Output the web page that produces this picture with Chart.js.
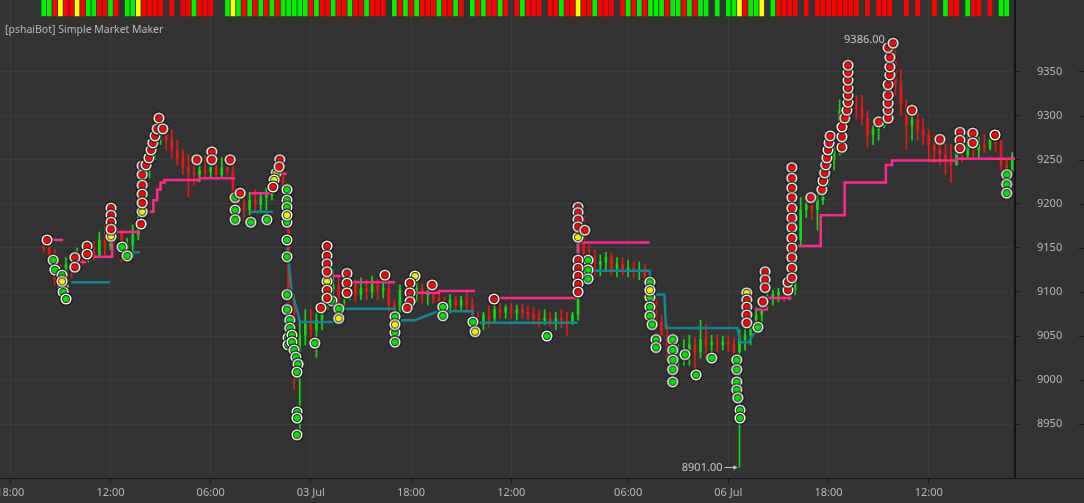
<!DOCTYPE html>
<html>
<head>
<meta charset="utf-8">
<title>[pshaiBot] Simple Market Maker</title>
<script src="https://cdn.jsdelivr.net/npm/chart.js@4/dist/chart.umd.min.js"></script>
<style>
  html, body { margin: 0; padding: 0; background: #333333; }
  #wrap { position: relative; width: 1084px; height: 503px; }
</style>
</head>
<body>
<div id="wrap"><canvas id="chart"></canvas></div>
<script>
// Simple Market Maker - hourly candles, bot order levels and fills

const chartTitle = '[pshaiBot] Simple Market Maker';

// x axis is in "hours" since the first 18:00 tick
const xTickPositions = [0, 18, 36, 54, 72, 90, 111, 129, 147, 165];
const xTickLabels = ['18:00', '12:00', '06:00', '03 Jul', '18:00', '12:00', '06:00', '06 Jul', '18:00', '12:00'];
const yTicks = [8950, 9000, 9050, 9100, 9150, 9200, 9250, 9300, 9350];

// candles, one per hour starting at hour 6
const firstHour = 6;
const candleOpen = [
    9157, 9150, 9139, 9114, 9108, 9131, 9125, 9142, 9139, 9150,
    9142, 9159, 9153, 9165, 9168, 9148, 9153, 9165, 9204, 9238,
    9261, 9281, 9286, 9272, 9261, 9252, 9241, 9236, 9233, 9238,
    9236, 9241, 9233, 9241, 9238, 9204, 9199, 9193, 9204, 9199,
    9207, 9210, 9227, 9233, 9210, 9091, 9023, 9051, 9063, 9057,
    9068, 9091, 9102, 9108, 9097, 9102, 9108, 9097, 9104, 9100,
    9108, 9102, 9104, 9085, 9080, 9102, 9100, 9102, 9104, 9097,
    9100, 9093, 9085, 9082, 9091, 9085, 9091, 9085, 9068, 9063,
    9074, 9070, 9080, 9077, 9082, 9076, 9080, 9077, 9074, 9070,
    9068, 9070, 9066, 9070, 9068, 9066, 9074, 9187, 9142, 9139,
    9131, 9134, 9139, 9127, 9131, 9125, 9127, 9123, 9125, 9116,
    9091, 9066, 9051, 9034, 9023, 9029, 9034, 9040, 9032, 9046,
    9040, 9043, 9040, 9043, 9040, 9032, 9046, 9051, 9059, 9074,
    9085, 9093, 9097, 9100, 9095, 9102, 9159, 9193, 9199, 9193,
    9204, 9227, 9250, 9261, 9306, 9318, 9312, 9309, 9297, 9278,
    9284, 9289, 9329, 9363, 9335, 9312, 9289, 9295, 9284, 9278,
    9267, 9261, 9255, 9250, 9244, 9261, 9255, 9267, 9261, 9267,
    9263, 9272, 9270, 9244, 9238
];
const candleHigh = [
    9161, 9156, 9148, 9131, 9139, 9142, 9150, 9153, 9159, 9157,
    9168, 9176, 9173, 9193, 9170, 9161, 9176, 9210, 9250, 9272,
    9289, 9301, 9289, 9284, 9272, 9261, 9255, 9250, 9252, 9255,
    9250, 9247, 9252, 9250, 9250, 9216, 9210, 9213, 9216, 9213,
    9218, 9238, 9250, 9244, 9216, 9097, 9068, 9080, 9080, 9077,
    9100, 9119, 9125, 9119, 9116, 9119, 9114, 9116, 9114, 9118,
    9114, 9119, 9114, 9091, 9108, 9114, 9111, 9114, 9109, 9104,
    9108, 9102, 9094, 9097, 9095, 9095, 9100, 9093, 9077, 9077,
    9084, 9085, 9087, 9085, 9087, 9085, 9086, 9084, 9082, 9080,
    9080, 9077, 9077, 9080, 9077, 9077, 9195, 9187, 9153, 9148,
    9142, 9145, 9144, 9139, 9139, 9136, 9134, 9134, 9131, 9119,
    9097, 9074, 9063, 9051, 9040, 9046, 9051, 9048, 9068, 9063,
    9051, 9051, 9050, 9050, 9048, 9057, 9063, 9066, 9082, 9091,
    9100, 9102, 9104, 9102, 9108, 9170, 9207, 9210, 9207, 9210,
    9238, 9261, 9272, 9318, 9340, 9354, 9323, 9323, 9306, 9289,
    9295, 9340, 9386, 9374, 9352, 9318, 9309, 9304, 9297, 9284,
    9278, 9275, 9272, 9267, 9272, 9275, 9276, 9278, 9276, 9278,
    9279, 9281, 9272, 9250, 9258
];
const candleLow = [
    9145, 9134, 9108, 9100, 9102, 9116, 9123, 9131, 9134, 9136,
    9139, 9142, 9148, 9159, 9134, 9134, 9139, 9159, 9199, 9229,
    9250, 9267, 9261, 9252, 9244, 9233, 9208, 9221, 9225, 9227,
    9229, 9227, 9229, 9233, 9199, 9187, 9184, 9187, 9191, 9191,
    9193, 9204, 9221, 9204, 9068, 8989, 8938, 9040, 9046, 9026,
    9057, 9080, 9085, 9085, 9082, 9091, 9089, 9091, 9091, 9093,
    9091, 9093, 9077, 9074, 9077, 9091, 9091, 9089, 9087, 9085,
    9087, 9077, 9074, 9076, 9077, 9080, 9077, 9063, 9055, 9057,
    9060, 9066, 9070, 9070, 9070, 9068, 9070, 9068, 9063, 9060,
    9063, 9060, 9057, 9059, 9050, 9063, 9068, 9131, 9131, 9119,
    9118, 9123, 9119, 9117, 9119, 9117, 9116, 9114, 9108, 9080,
    9057, 9040, 9023, 9000, 9011, 9017, 9017, 9006, 9025, 9026,
    9025, 9032, 9034, 9032, 9025, 8901, 9034, 9040, 9057, 9063,
    9080, 9085, 9089, 9089, 9091, 9097, 9153, 9184, 9182, 9170,
    9199, 9221, 9238, 9255, 9297, 9301, 9297, 9289, 9264, 9267,
    9272, 9286, 9323, 9323, 9301, 9261, 9272, 9272, 9267, 9250,
    9247, 9244, 9233, 9224, 9244, 9247, 9250, 9253, 9252, 9258,
    9261, 9259, 9238, 9230, 9236
];
const candleClose = [
    9150, 9139, 9114, 9108, 9131, 9125, 9142, 9139, 9150, 9142,
    9159, 9153, 9165, 9168, 9148, 9153, 9165, 9204, 9238, 9261,
    9281, 9286, 9272, 9261, 9252, 9241, 9236, 9233, 9238, 9236,
    9241, 9233, 9241, 9238, 9204, 9199, 9193, 9204, 9199, 9207,
    9210, 9227, 9233, 9210, 9091, 9023, 9051, 9063, 9057, 9068,
    9091, 9102, 9108, 9097, 9102, 9108, 9097, 9104, 9100, 9108,
    9102, 9104, 9085, 9080, 9102, 9100, 9102, 9104, 9097, 9100,
    9093, 9085, 9082, 9091, 9085, 9091, 9085, 9068, 9063, 9074,
    9070, 9080, 9077, 9082, 9076, 9080, 9077, 9074, 9070, 9068,
    9070, 9066, 9070, 9068, 9066, 9074, 9187, 9142, 9139, 9131,
    9134, 9139, 9127, 9131, 9125, 9127, 9123, 9125, 9116, 9091,
    9066, 9051, 9034, 9023, 9029, 9034, 9040, 9032, 9046, 9040,
    9043, 9040, 9043, 9040, 9032, 9046, 9051, 9059, 9074, 9085,
    9093, 9097, 9100, 9095, 9102, 9159, 9193, 9199, 9193, 9204,
    9227, 9250, 9261, 9306, 9318, 9312, 9309, 9297, 9278, 9284,
    9289, 9329, 9363, 9335, 9312, 9289, 9295, 9284, 9278, 9267,
    9261, 9255, 9250, 9244, 9261, 9255, 9267, 9261, 9267, 9263,
    9272, 9270, 9244, 9238, 9253
];

// bot sell level (pink) and buy level (teal), null = gap
const pinkH = [
    7.3, 9.5, null, 12.5, 13.6, null, 14.9, 18.3, 18.3, 23.3, null,
    25.1, 25.7, 25.7, 26.4, 26.4, 27.0, 27.0, 27.7, 27.7, 34.0, 34.0, 40.4, null,
    43.1, 47.0, null, 48.8, 49.7, null, 57.8, 61.0, 61.0, 69.1, null,
    72.7, 77.0, 77.0, 83.5, null, 87.8, 102.0, 102.0, 114.9, null,
    133.8, 135.9, 135.9, 140.1, 140.1, 145.6, 145.6, 149.9, 149.9, 157.3, 157.3, 158.4, 158.4, 170.0, 170.0, 180.5
];
const pinkPrice = [
    9159, 9159, null, 9134, 9134, null, 9140, 9140, 9168, 9168, null,
    9191, 9191, 9204, 9204, 9216, 9216, 9224, 9224, 9227, 9227, 9229, 9229, null,
    9212, 9212, null, 9234, 9234, null, 9118, 9118, 9111, 9111, null,
    9099, 9099, 9101, 9101, null, 9093, 9093, 9156, 9156, null,
    9080, 9080, 9093, 9093, 9152, 9152, 9187, 9187, 9224, 9224, 9244, 9244, 9249, 9249, 9251, 9251
];
const tealH = [
    10.9, 17.9, null, 19.9, 23.3, null, 43.1, 47.2, null,
    49.8, 50.2, 50.6, 51.2, 51.7, 52.0, 59.6, 59.6, 69.1, 69.1, 72.7, 76.8, 83.1, 83.1, 102.0, null,
    104.4, 114.9, 114.9, 117.5, 117.8, 130.6, 131.2, 132.6, 134.0
];
const tealPrice = [
    9111, 9111, null, 9145, 9145, null, 9191, 9191, null,
    9150, 9122, 9100, 9086, 9075, 9066, 9066, 9081, 9081, 9068, 9068, 9078, 9078, 9065, 9065, null,
    9124, 9124, 9097, 9097, 9059, 9059, 9043, 9043, 9057
];

// filled orders
const sellH = [
    6.6, 11.6, 11.6, 13.8, 13.8, 18.1, 18.1, 18.1, 18.1,
    23.7, 23.7, 23.7, 23.7, 23.7, 23.5, 24.4, 24.9, 25.3, 25.6, 26.0, 26.4, 26.7, 27.4,
    33.5, 36.2, 36.2, 39.5, 41.3, 48.4, 48.3, 47.2,
    56.9, 56.9, 56.9, 56.9, 56.9, 56.9, 55.8, 60.5, 60.5, 60.5, 67.3,
    71.8, 71.8, 71.8, 71.3, 75.8, 86.9,
    102.0, 102.0, 102.0, 102.0, 103.2, 102.0, 102.0, 102.0, 102.0, 102.0,
    132.3, 132.3, 132.3, 132.3, 135.2, 135.6, 135.6, 135.6, 139.7, 139.7,
    140.4, 140.4, 140.4, 140.4, 140.4, 140.4, 140.4, 140.4, 140.4, 140.4, 140.4, 140.4,
    143.8, 145.8, 146.0, 146.3, 146.5, 146.7, 146.9, 147.1, 147.3,
    149.4, 149.4, 149.4, 149.9, 150.3, 150.5, 150.5, 150.5, 150.5, 150.5, 150.5,
    156.0, 157.7, 157.7, 157.7, 157.7, 157.7, 158.0, 158.0, 158.0, 157.7, 158.6,
    162.0, 167.0, 170.6, 170.6, 170.6, 172.9, 172.9, 176.9
];
const sellPrice = [
    9159, 9139, 9128, 9152, 9143, 9195, 9187, 9179, 9171,
    9243, 9233, 9221, 9211, 9201, 9177, 9244, 9252, 9261, 9269, 9277, 9285, 9297, 9285,
    9250, 9259, 9250, 9250, 9212, 9250, 9242, 9219,
    9152, 9141, 9132, 9123, 9102, 9093, 9082, 9121, 9110, 9099, 9119,
    9110, 9099, 9089, 9082, 9108, 9092,
    9196, 9190, 9182, 9174, 9170, 9136, 9127, 9118, 9109, 9100,
    9091, 9083, 9074, 9065, 9089, 9123, 9114, 9105, 9102, 9111,
    9241, 9229, 9218, 9207, 9195, 9184, 9173, 9161, 9150, 9139, 9127, 9116,
    9207, 9216, 9226, 9235, 9244, 9252, 9261, 9269, 9277,
    9264, 9276, 9287, 9297, 9306, 9315, 9323, 9331, 9340, 9349, 9357,
    9293, 9297, 9306, 9314, 9323, 9335, 9346, 9355, 9366, 9377, 9382,
    9306, 9273, 9281, 9272, 9263, 9280, 9269, 9278
];
const buyH = [
    7.7, 8.0, 9.3, 9.5, 9.5, 10.0, 20.1, 21.0,
    40.4, 40.4, 40.4, 43.2, 46.1,
    49.7, 49.7, 49.7, 49.7, 49.7, 49.7, 49.7, 49.7, 50.2, 50.2, 49.9, 49.9, 50.6, 50.6,
    51.0, 51.3, 51.7, 51.5, 51.5, 51.5, 51.5, 54.7, 57.8, 59.0,
    69.1, 69.1, 69.1, 77.7, 77.7, 83.1, 96.4, 103.8, 103.8, 103.8,
    114.9, 114.9, 114.9, 114.9, 115.3, 116.0, 116.0,
    119.0, 119.0, 119.0, 119.0, 119.0, 121.2, 123.2, 126.0,
    130.5, 130.5, 130.5, 130.5, 130.7, 131.1, 131.1, 134.3, 179.0, 179.0, 179.0
];
const buyPrice = [
    9136, 9125, 9119, 9106, 9100, 9092, 9151, 9141,
    9207, 9193, 9182, 9179, 9182,
    9216, 9204, 9196, 9179, 9159, 9140, 9097, 9080, 9068, 9059, 9048, 9040, 9051, 9043,
    9034, 9026, 9018, 9009, 8964, 8957, 8938, 9042, 9090, 9081,
    9072, 9054, 9043, 9083, 9073, 9066, 9050, 9136, 9125, 9115,
    9111, 9094, 9083, 9073, 9063, 9046, 9037,
    9046, 9034, 9023, 9012, 8998, 9029, 9006, 9025,
    9023, 9012, 8998, 8989, 8980, 8966, 8957, 9060, 9233, 9222, 9212
];
const partialH = [9.3, 18.1, 23.7, 47.8, 47.4, 49.7, 56.9, 59.0, 69.1, 72.7, 83.5, 102.0, 114.9, 132.3];
const partialPrice = [9112, 9163, 9191, 9235, 9227, 9187, 9112, 9070, 9063, 9118, 9055, 9162, 9102, 9099];

// signal strip, one code per hour from hour 6: g = buy, r = sell, y = both, - = none
const stripStartHour = 6;
const stripCodes = (
    'ggryrryrgg' + 'rrgr-ggyrr' + 'rr-r-rrgrr' + 'r--gygrgrg' + 'rgrgggggrg' +
    'rrgrrgrrgr' + 'rr-grgrgrr' + 'rgrrgr-grg' + 'rrgr-rgrrr' + '-rrgrryrrg' +
    'rrr-rgrgrg' + 'ggrggrgrgg' + '-g-ggyrggy' + '-grrrr-r-r' + 'rrrrrrr-r-' +
    'rrr--r-r--' + 'r-grr-grr-' + 'r-gg'
).split('');

// colours
const UP = '#14d814';
const DOWN = '#e81818';
const PINK = '#ff2a8c';
const TEAL = '#12868c';
const TEXT = '#b8b8b8';
const GRID = '#3c3c3c';
const AXIS = '#141414';
const STRIP = { g: '#00f000', r: '#ff0000', y: '#ffff00' };

function toPoints(hs, prices) {
    const pts = [];
    hs.forEach((h, i) => {
        if (h === null) {
            pts.push({ x: hs[i - 1], y: null });
        } else {
            pts.push({ x: h, y: prices[i] });
        }
    });
    return pts;
}

function makeMarker(fill) {
    const c = document.createElement('canvas');
    c.width = 14;
    c.height = 14;
    const g = c.getContext('2d');
    const disc = (r, col) => {
        g.beginPath();
        g.arc(7, 7, r, 0, Math.PI * 2);
        g.fillStyle = col;
        g.fill();
    };
    disc(6.6, '#080808');
    disc(5.6, '#ffffff');
    disc(3.9, '#1c1c1c');
    disc(3.1, fill);
    return c;
}

const candleHours = candleClose.map((_, i) => firstHour + i);
const candleColors = candleClose.map((c, i) => c >= candleOpen[i] ? UP : DOWN);

const stripData = [];
const stripColors = [];
stripCodes.forEach((code, i) => {
    if (code === '-') return;
    stripData.push({ x: stripStartHour + i, y: [29, 30] });
    stripColors.push(STRIP[code]);
});

const overlayPlugin = {
    id: 'overlay',
    afterDatasetsDraw(chart) {
        const { ctx } = chart;
        const x = chart.scales.x, y = chart.scales.y;
        const hi = Math.max(...candleHigh);
        const lo = Math.min(...candleLow);
        const hx = x.getPixelForValue(candleHours[candleHigh.indexOf(hi)]);
        const hy = y.getPixelForValue(hi);
        const lx = x.getPixelForValue(candleHours[candleLow.indexOf(lo)]);
        const ly = y.getPixelForValue(lo);
        ctx.save();
        ctx.font = '11px "Noto Sans", sans-serif';
        ctx.fillStyle = '#c6c6c6';
        ctx.strokeStyle = '#c6c6c6';
        ctx.textAlign = 'right';
        ctx.textBaseline = 'middle';
        ctx.fillText(hi.toFixed(2), hx - 5, hy);
        ctx.fillText(lo.toFixed(2), lx - 17, ly);
        ctx.lineWidth = 1;
        ctx.beginPath();
        ctx.moveTo(lx - 15, Math.round(ly) + 0.5);
        ctx.lineTo(lx - 4, Math.round(ly) + 0.5);
        ctx.stroke();
        ctx.beginPath();
        ctx.moveTo(lx - 2, Math.round(ly) + 0.5);
        ctx.lineTo(lx - 6, Math.round(ly) - 2);
        ctx.lineTo(lx - 6, Math.round(ly) + 3);
        ctx.closePath();
        ctx.fill();
        ctx.restore();
    },
    afterDraw(chart) {
        const { ctx, chartArea } = chart;
        const y = chart.scales.y;
        ctx.save();
        // title
        ctx.font = '10.5px "Noto Sans", sans-serif';
        ctx.fillStyle = TEXT;
        ctx.textAlign = 'left';
        ctx.textBaseline = 'middle';
        ctx.fillText(chartTitle, 5, 30);
        // bottom axis line under the price scale, outer tick marks
        ctx.strokeStyle = AXIS;
        ctx.lineWidth = 1;
        ctx.beginPath();
        ctx.moveTo(chartArea.right, chartArea.bottom + 0.5);
        ctx.lineTo(chart.width, chartArea.bottom + 0.5);
        yTicks.forEach(v => {
            const py = Math.round(y.getPixelForValue(v)) + 0.5;
            ctx.moveTo(chart.width - 5, py);
            ctx.lineTo(chart.width, py);
        });
        ctx.stroke();
        ctx.restore();
    }
};

Chart.defaults.font.family = '"Noto Sans", sans-serif';
Chart.defaults.font.size = 11;
Chart.defaults.color = TEXT;

new Chart(document.getElementById('chart'), {
    type: 'line',
    data: {
        datasets: [
            {
                label: 'Sell fills',
                data: toPoints(sellH, sellPrice),
                showLine: false,
                pointStyle: makeMarker('#ff0000'),
                pointRadius: 6,
                order: 0
            },
            {
                label: 'Partial fills',
                data: toPoints(partialH, partialPrice),
                showLine: false,
                pointStyle: makeMarker('#f0f000'),
                pointRadius: 6,
                order: 0
            },
            {
                label: 'Buy fills',
                data: toPoints(buyH, buyPrice),
                showLine: false,
                pointStyle: makeMarker('#00e000'),
                pointRadius: 6,
                order: 0
            },
            {
                label: 'Sell level',
                data: toPoints(pinkH, pinkPrice),
                borderColor: PINK,
                borderWidth: 2.5,
                pointRadius: 0,
                spanGaps: false,
                tension: 0,
                order: 1
            },
            {
                label: 'Buy level',
                data: toPoints(tealH, tealPrice),
                borderColor: TEAL,
                borderWidth: 2.5,
                pointRadius: 0,
                spanGaps: false,
                tension: 0,
                order: 1
            },
            {
                type: 'bar',
                label: 'Body',
                data: candleHours.map((h, i) => ({ x: h, y: [candleOpen[i], candleClose[i]] })),
                backgroundColor: candleColors,
                barThickness: 2,
                minBarLength: 1,
                grouped: false,
                order: 2
            },
            {
                type: 'bar',
                label: 'Wick',
                data: candleHours.map((h, i) => ({ x: h, y: [candleLow[i], candleHigh[i]] })),
                backgroundColor: candleColors,
                barThickness: 1,
                grouped: false,
                order: 3
            },
            {
                type: 'bar',
                label: 'Signal',
                data: stripData,
                yAxisID: 'yStrip',
                backgroundColor: stripColors,
                barThickness: 4,
                grouped: false,
                order: 4
            }
        ]
    },
    options: {
        responsive: true,
        maintainAspectRatio: false,
        animation: false,
        events: [],
        layout: { padding: 0, autoPadding: false },
        plugins: {
            legend: { display: false },
            tooltip: { enabled: false },
            title: { display: false }
        },
        scales: {
            x: {
                type: 'linear',
                min: -1.85,
                max: 180.5,
                offset: false,
                grid: { color: GRID, tickColor: AXIS, tickLength: 5, offset: false },
                border: { color: AXIS, width: 1 },
                ticks: {
                    autoSkip: false,
                    maxRotation: 0,
                    padding: 3,
                    callback: (value, index) => xTickLabels[index]
                },
                afterBuildTicks: scale => {
                    scale.ticks = xTickPositions.map(v => ({ value: v }));
                },
                afterFit: scale => {
                    scale.height = 25;
                    scale.paddingLeft = 0;
                    scale.paddingRight = 0;
                }
            },
            y: {
                type: 'linear',
                position: 'right',
                min: 8889,
                max: 9431,
                beginAtZero: false,
                grid: { color: GRID, tickColor: AXIS, tickLength: 4 },
                border: { color: AXIS, width: 2 },
                ticks: {
                    padding: 18,
                    callback: value => String(value)
                },
                afterBuildTicks: scale => {
                    scale.ticks = yTicks.map(v => ({ value: v }));
                },
                afterFit: scale => {
                    scale.width = 69;
                    scale.paddingTop = 0;
                    scale.paddingBottom = 0;
                }
            },
            yStrip: {
                type: 'linear',
                display: false,
                min: 0,
                max: 30
            }
        }
    },
    plugins: [overlayPlugin]
});
</script>
</body>
</html>
